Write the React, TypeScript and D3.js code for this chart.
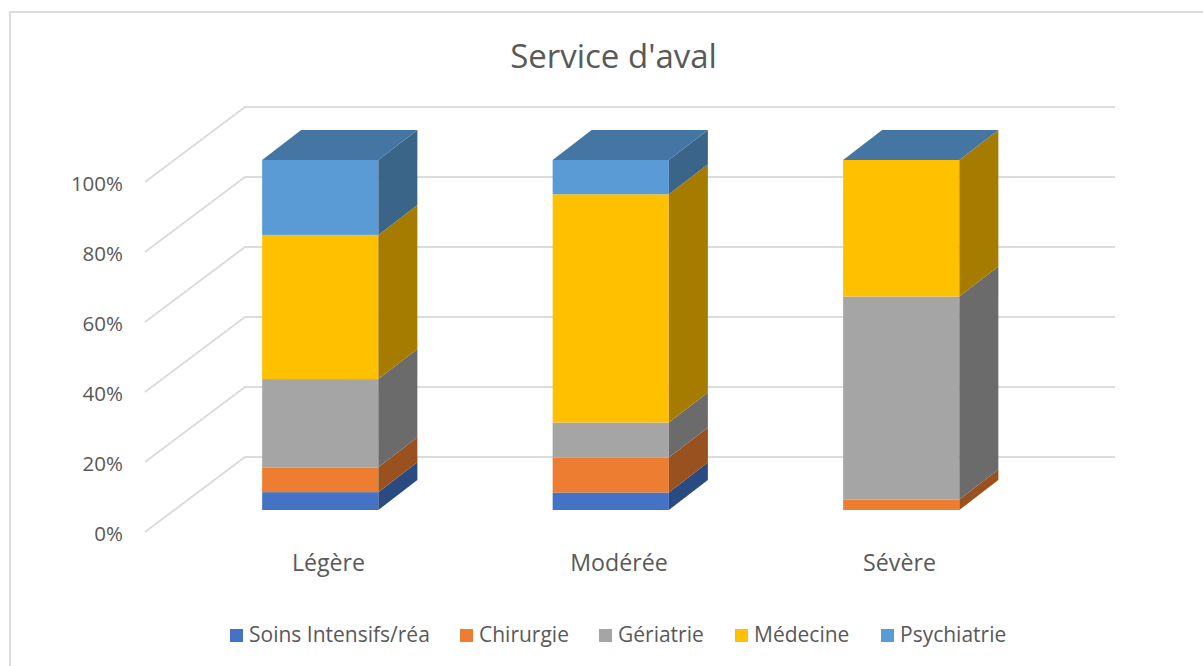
import React from 'react';
import * as d3 from 'd3';

const categories = ['Légère', 'Modérée', 'Sévère'];
const seriesNames = ['Soins Intensifs/réa', 'Chirurgie', 'Gériatrie', 'Médecine', 'Psychiatrie'];
const soins = [5.1, 5, 0];
const chirurgie = [7.1, 10, 3];
const geriatrie = [25.2, 10, 58];
const medecine = [41.2, 65.2, 39];
const psychiatrie = [21.4, 9.8, 0];
const tickValues = [0, 20, 40, 60, 80, 100];

const colors = ['#4472c4', '#ed7d31', '#a5a5a5', '#ffc000', '#5b9bd5'];
const sideColors = ['#2a4a82', '#9a5120', '#6b6b6b', '#a67c00', '#3a6589'];
const topColor = '#4575a3';
const gridColor = '#dcdcdc';
const textColor = '#595959';
const font = '"Open Sans", sans-serif';

const width = 1203;
const height = 666;

// depth offset of the 3D box
const wallDx = 100;
const wallDy = -75;
const barDx = 39;
const barDy = -30;

const rows = categories.map((c, i) => ({
    category: c,
    [seriesNames[0]]: soins[i],
    [seriesNames[1]]: chirurgie[i],
    [seriesNames[2]]: geriatrie[i],
    [seriesNames[3]]: medecine[i],
    [seriesNames[4]]: psychiatrie[i]
}));

const stacked = d3.stack<any>().keys(seriesNames)(rows);

// front plane of the walls, used for the tick labels
const yFront = d3.scaleLinear().domain([0, 100]).range([532, 182]);
// front plane of the bars
const yBar = d3.scaleLinear().domain([0, 100]).range([510, 160]);
const x = d3.scaleBand().domain(categories).range([175, 1046.5]).paddingInner(0.6).paddingOuter(0.3);

const poly = (pts: number[][]) => d3.line()(pts as [number, number][]) + 'Z';

const legendX = [230, 460, 599, 735, 881];
const categoryLabelX = [328.5, 619, 899.5];

export default function App() {
    return (
        <svg
            width={width}
            height={height}
            style={{ position: 'fixed', left: 0, top: 0, display: 'block', background: '#fff' }}
            fontFamily={font}
        >
            <path d="M10,666V12H1203" fill="none" stroke={gridColor} strokeWidth={2} />

            <text x={613.5} y={68} textAnchor="middle" fontSize={33} fill={textColor}>Service d'aval</text>

            {tickValues.map(t => {
                const yf = yFront(t);
                return (
                    <g key={t}>
                        <path
                            d={d3.line()([[145, yf], [145 + wallDx, yf + wallDy], [1115, yf + wallDy]])!}
                            fill="none"
                            stroke={gridColor}
                            strokeWidth={2}
                        />
                        <text x={123} y={yf + 8.5} textAnchor="end" fontSize={20.5} fill={textColor}>{t}%</text>
                    </g>
                );
            })}

            {categories.map((c, ci) => {
                const x0 = x(c)!;
                const x1 = x0 + x.bandwidth();
                const tops = stacked.filter(s => s[ci][1] > s[ci][0]);
                const last = tops[tops.length - 1];
                const yTop = yBar(last[ci][1]);
                return (
                    <g key={c}>
                        {tops.map(s => {
                            const i = seriesNames.indexOf(s.key);
                            const yA = yBar(s[ci][0]);
                            const yB = yBar(s[ci][1]);
                            return (
                                <g key={s.key}>
                                    <rect x={x0} y={yB} width={x1 - x0} height={yA - yB} fill={colors[i]} />
                                    <path
                                        d={poly([[x1, yA], [x1 + barDx, yA + barDy], [x1 + barDx, yB + barDy], [x1, yB]])}
                                        fill={sideColors[i]}
                                    />
                                </g>
                            );
                        })}
                        <path
                            d={poly([[x0, yTop], [x0 + barDx, yTop + barDy], [x1 + barDx, yTop + barDy], [x1, yTop]])}
                            fill={topColor}
                        />
                        <text x={categoryLabelX[ci]} y={571} textAnchor="middle" fontSize={23.2} fill={textColor}>{c}</text>
                    </g>
                );
            })}

            {seriesNames.map((s, i) => (
                <g key={s}>
                    <rect x={legendX[i]} y={629} width={13} height={13} fill={colors[i]} />
                    <text x={legendX[i] + 19} y={642} fontSize={21} fill={textColor}>{s}</text>
                </g>
            ))}
        </svg>
    );
}
